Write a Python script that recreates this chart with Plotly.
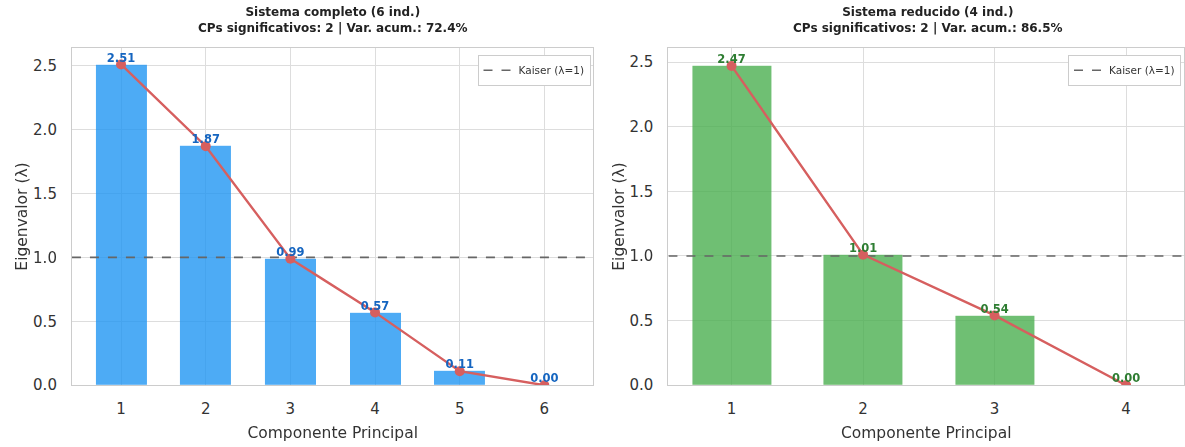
import plotly.graph_objects as go

# ---- data ----
comp_full = [1, 2, 3, 4, 5, 6]
eig_full = [2.51, 1.87, 0.99, 0.57, 0.11, 0.00]
comp_red = [1, 2, 3, 4]
eig_red = [2.47, 1.01, 0.54, 0.00]
kaiser = 1.0
title_full = ["Sistema completo (6 ind.)", "CPs significativos: 2 | Var. acum.: 72.4%"]
title_red = ["Sistema reducido (4 ind.)", "CPs significativos: 2 | Var. acum.: 86.5%"]
x_title = "Componente Principal"
y_title = "Eigenvalor (λ)"
legend_label = "Kaiser (λ=1)"

W, H = 1185, 447
HE = 440  # effective rendered height used for paper fractions
FONT = "DejaVu Sans"
RED = "#d65f5f"

def fy(px):
    return 1 - (px + 1) / HE

fig = go.Figure()

def add_panel(xs, ys, xa, ya, bar_color, lab_color, xrange, legend):
    fig.add_trace(go.Bar(x=xs, y=ys, width=0.6, marker=dict(color=bar_color, line=dict(width=0)),
                         opacity=0.8, xaxis=xa, yaxis=ya, showlegend=False))
    fig.add_trace(go.Scatter(x=xrange, y=[kaiser, kaiser], mode="lines",
                             line=dict(color="#666666", width=1.6, dash="dash"),
                             name=legend_label, legend=legend, xaxis=xa, yaxis=ya, showlegend=True))
    fig.add_trace(go.Scatter(x=xs, y=ys, mode="lines+markers",
                             line=dict(color=RED, width=2.4),
                             marker=dict(color=RED, size=10), xaxis=xa, yaxis=ya, showlegend=False))
    fig.add_trace(go.Scatter(x=xs, y=ys, mode="text", text=[f"{v:.2f}" for v in ys],
                             textposition="top center",
                             textfont=dict(family=FONT, size=11.5, color=lab_color, weight="bold"),
                             xaxis=xa, yaxis=ya, showlegend=False, cliponaxis=False))

add_panel(comp_full, eig_full, "x", "y", "#2196F3", "#1565C0", [0.42, 6.58], "legend")
add_panel(comp_red, eig_red, "x2", "y2", "#4CAF50", "#2E7D32", [0.52, 4.44], "legend2")

ydom = [fy(386), fy(47)]
axis_common = dict(showgrid=True, gridcolor="#dddddd", gridwidth=1, showline=True, linecolor="#cccccc",
                   linewidth=1, mirror=True, zeroline=False, ticks="",
                   tickfont=dict(family=FONT, size=15, color="#333333"))
xt = dict(text=x_title, font=dict(size=15.5, color="#333333"), standoff=9)
yt = dict(text=y_title, font=dict(size=15.5, color="#333333"), standoff=1)

fig.update_layout(
    width=W, height=H, autosize=False, margin=dict(l=0, r=0, t=0, b=0, pad=0),
    plot_bgcolor="white", paper_bgcolor="white", bargap=0,
    font=dict(family=FONT, color="#333333"),
    xaxis=dict(domain=[72 / W, 594 / W], range=[0.42, 6.58], tickvals=comp_full, anchor="y",
               ticklabelstandoff=10, title=xt, **axis_common),
    yaxis=dict(domain=ydom, range=[0, 2.64], dtick=0.5, tickformat=".1f", anchor="x",
               ticklabelstandoff=11, title=yt, **axis_common),
    xaxis2=dict(domain=[669 / W, 1.0], range=[0.52, 4.44], tickvals=comp_red, anchor="y2",
                ticklabelstandoff=10, title=xt, **axis_common),
    yaxis2=dict(domain=ydom, range=[0, 2.61], dtick=0.5, tickformat=".1f", anchor="x2",
                ticklabelstandoff=11, title=yt, **axis_common),
    legend=dict(x=591 / W, y=fy(54), xanchor="right", yanchor="top", bgcolor="white",
                bordercolor="#cccccc", borderwidth=1, font=dict(family=FONT, size=10.5, color="#333333"),
                itemwidth=30, tracegroupgap=0),
    legend2=dict(x=1182 / W, y=fy(54), xanchor="right", yanchor="top", bgcolor="white",
                 bordercolor="#cccccc", borderwidth=1, font=dict(family=FONT, size=10.5, color="#333333"),
                 itemwidth=30, tracegroupgap=0),
)

for txt, xc in [(title_full, 333), (title_red, 929)]:
    fig.add_annotation(text="<b>" + txt[0] + "</b><br><b>" + txt[1] + "</b>", x=xc / W, y=fy(2),
                       xref="paper", yref="paper", xanchor="center", yanchor="top", showarrow=False,
                       font=dict(family=FONT, size=12, color="#222222"))

fig.write_html("out.html", config={"responsive": False, "displayModeBar": False},
               post_script="document.body.style.margin='0';document.body.style.overflow='hidden';")
